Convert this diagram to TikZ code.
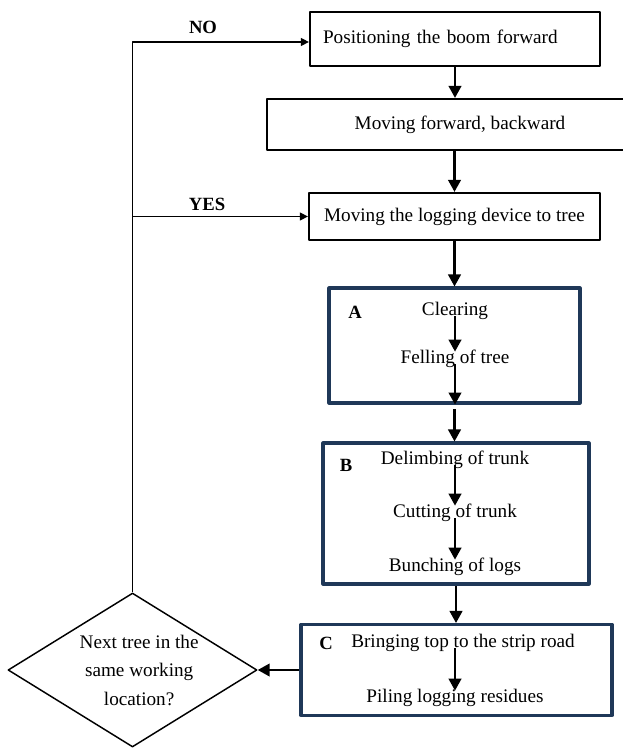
\documentclass[tikz,border=0pt]{standalone}
\usepackage{fontspec}
\setmainfont{Liberation Serif}
\usetikzlibrary{arrows.meta,shapes.geometric}
\definecolor{framenavy}{RGB}{31,56,88}

\begin{document}
\begin{tikzpicture}[x=0.75pt,y=-0.75pt,line join=round,
	font=\fontsize{14.4}{21.4}\selectfont,
	stepbox/.style={draw,line width=1.7pt,inner sep=0pt},
	groupbox/.style={draw=framenavy,line width=2.3pt,inner sep=0pt},
	txt/.style={inner sep=0pt,text height=0.85em,text depth=0.07em},
	tag/.style={inner sep=0pt,font=\fontsize{14}{16}\selectfont\bfseries},
	flow/.style={line width=1.6pt,-{Triangle[length=9pt,width=9.5pt]}},
	loop/.style={line width=1pt,-{Triangle[length=6pt,width=6pt]}}]
	\useasboundingbox (0,0) rectangle (623,748);
	% main column
	\node[stepbox,minimum width=217.5pt,minimum height=40.5pt,text width=198pt,align=left,inner xsep=9.75pt] (boom) at (455,39) {Positioning the boom forward};
	\node[stepbox,minimum width=289.5pt,minimum height=38.25pt] (move) at (460,124.5) {Moving forward, backward};
	\node[stepbox,minimum width=218.25pt,minimum height=35.25pt] (device) at (454.5,216.5) {Moving the logging device to tree};
	% group A
	\node[groupbox,minimum width=188.25pt,minimum height=86.25pt] (boxA) at (454.5,345.5) {};
	\node[tag] (labA) at (355,312) {A};
	\node[txt] (clear) at (455,310) {Clearing};
	\node[txt] (fell) at (455,358) {Felling of tree};
	% group B
	\node[groupbox,minimum width=199.5pt,minimum height=105.75pt] (boxB) at (456,513.5) {};
	\node[tag] (labB) at (346,465) {B};
	\node[txt] (delimb) at (455,459) {Delimbing of trunk};
	\node[txt] (cut) at (455,512) {Cutting of trunk};
	\node[txt] (bunch) at (455,566) {Bunching of logs};
	% group C
	\node[groupbox,minimum width=233.25pt,minimum height=68.25pt] (boxC) at (456.5,670) {};
	\node[tag] (labC) at (326,643) {C};
	\node[txt] (top) at (463,642) {Bringing top to the strip road};
	\node[txt] (pile) at (455,697) {Piling logging residues};
	% decision
	\node[draw,diamond,line width=1.1pt,inner sep=0pt,aspect=1.62,minimum width=186.75pt,minimum height=115.5pt,align=center] (next) at (132.5,670) {\hspace*{10pt}Next tree in the\\\hspace*{10pt}same working\\\hspace*{10pt}location?};
	\node[tag] (no) at (203,27) {NO};
	\node[tag] (yes) at (207,204) {YES};

	\draw[flow] (boom.south) -- (boom.south |- move.north);
	\draw[flow] (device.north |- move.south) -- (device.north);
	\draw[flow] (device.south) -- (boxA.north);
	\draw[flow] (clear.south) -- (fell.north);
	\draw[flow] (fell.south) -- (fell.south |- boxA.south);
	\draw[flow,shorten <=3.5pt] (boxA.south) -- (boxA.south |- boxB.north);
	\draw[flow] (delimb.south) -- (cut.north);
	\draw[flow] (cut.south) -- (bunch.north);
	\draw[flow] (boxB.south) -- (boxB.south |- boxC.north);
	\draw[flow] (pile.north |- top.south) -- (pile.north);
	\draw[flow] (boxC.west) -- (next.east);
	% back to the start
	\draw[loop] (next.north) |- ([yshift=-2.25pt]boom.west);
	\draw[loop] (next.north |- device.west) -- (device.west);
\end{tikzpicture}
\end{document}
